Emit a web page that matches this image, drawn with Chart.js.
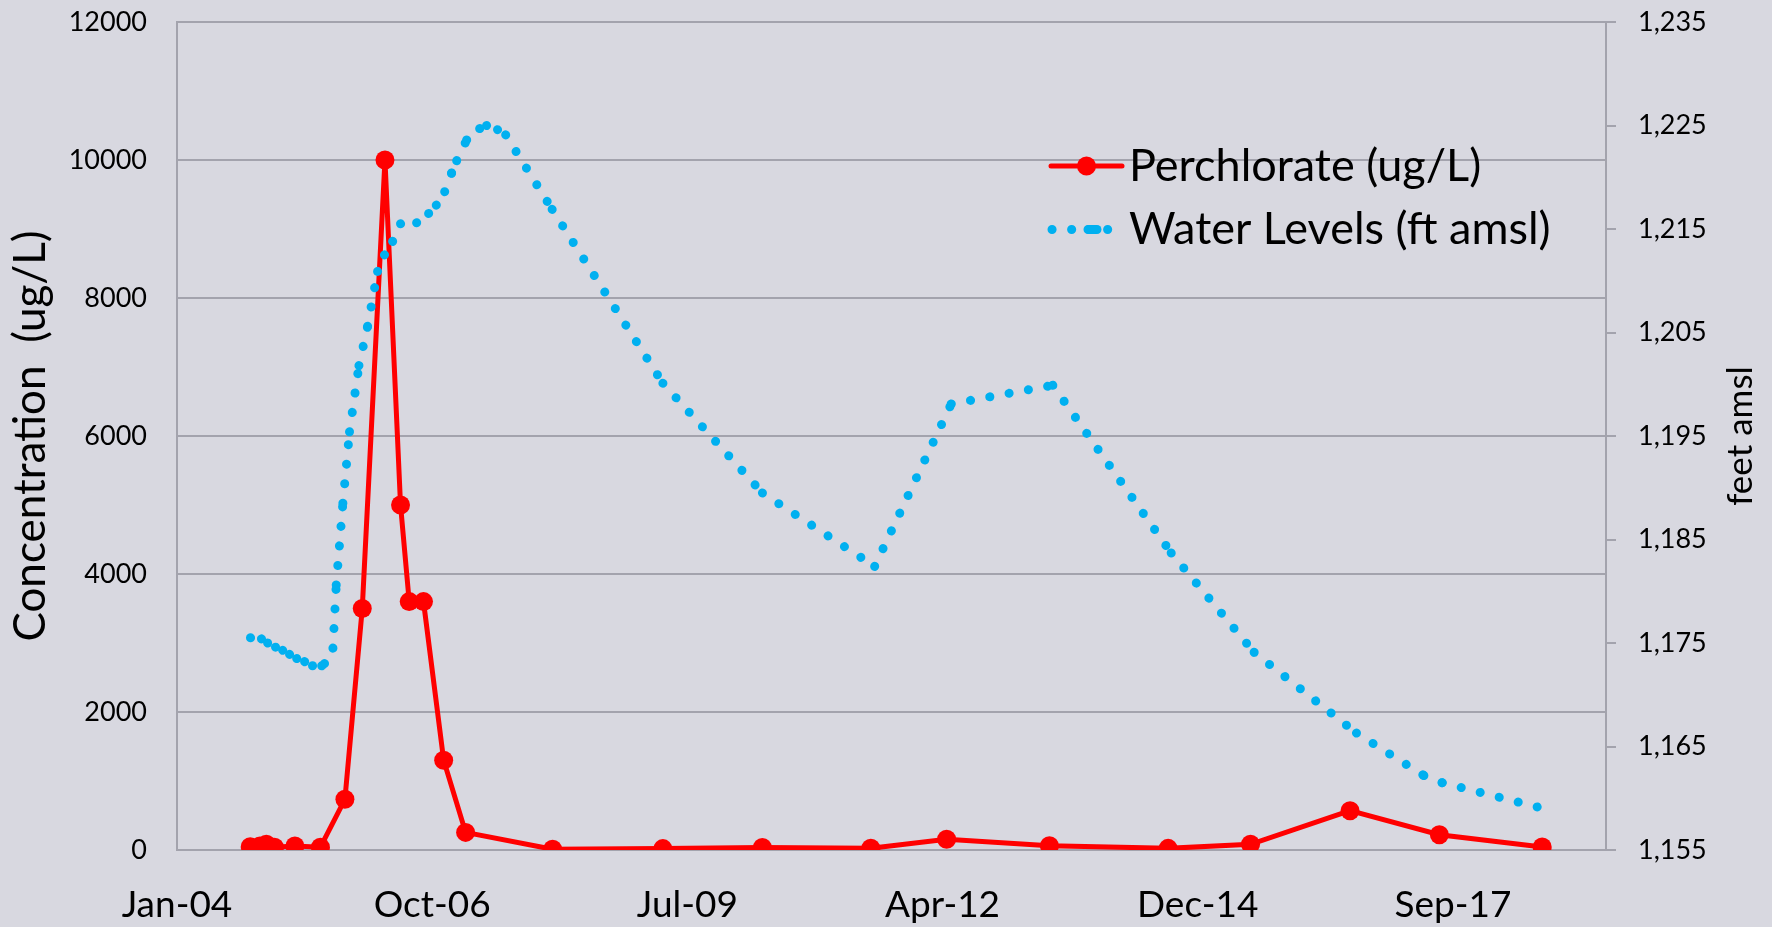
<!DOCTYPE html>
<html>
<head>
<meta charset="utf-8">
<title>Perchlorate and Water Levels</title>
<script src="https://cdn.jsdelivr.net/npm/chart.js@4.4.1/dist/chart.umd.min.js"></script>
<style>
    html, body { margin: 0; padding: 0; background: #d8d8e0; }
    #wrap { width: 1772px; height: 927px; }
</style>
</head>
<body>
<div id="wrap"><canvas id="levelChart" width="1772" height="927"></canvas></div>
<script>
// perchlorate samples (ug/L)
var perchlorateDates = ['2004-10-27', '2004-12-04', '2004-12-29', '2005-01-30', '2005-04-20', '2005-07-29',
    '2005-11-02', '2006-01-09', '2006-04-08', '2006-06-08', '2006-07-12', '2006-09-06', '2006-11-24',
    '2007-02-18', '2008-01-25', '2009-04-01', '2010-04-26', '2011-06-25', '2012-04-17', '2013-05-25',
    '2014-09-02', '2015-07-22', '2016-08-15', '2017-07-31', '2018-09-07'];
var perchlorateValues = [48, 58, 82, 40, 58, 40, 735, 3500, 10000, 5000, 3600, 3600, 1300,
    255, 10, 20, 35, 25, 155, 63, 24, 82, 570, 222, 43];

// water levels (ft amsl)
var waterLevelDates = ['2004-10-28', '2004-12-10', '2005-01-03', '2005-02-03', '2005-03-03', '2005-03-30',
    '2005-04-27', '2005-05-28', '2005-06-28', '2005-08-03', '2005-08-14', '2005-09-16', '2005-09-29',
    '2005-10-25', '2005-11-20', '2005-12-27', '2006-01-30', '2006-03-10', '2006-04-06', '2006-05-08',
    '2006-06-08', '2006-08-10', '2006-09-26', '2006-10-26', '2006-11-28', '2006-12-25', '2007-01-14',
    '2007-02-22', '2007-04-14', '2007-05-11', '2007-06-23', '2007-07-25', '2008-01-23', '2009-04-01',
    '2010-04-26', '2011-07-10', '2012-05-05', '2013-06-07', '2014-09-14', '2015-08-05', '2016-09-09',
    '2017-05-31', '2017-08-11', '2018-09-29'];
var waterLevelValues = [1175.5, 1175.4, 1175.0, 1174.6, 1174.3, 1173.9, 1173.5, 1173.2, 1172.8, 1172.8,
    1173.0, 1174.5, 1180.6, 1188.5, 1195.4, 1201.8, 1205.6, 1210.9, 1212.5, 1213.8, 1215.5, 1215.6,
    1216.5, 1217.3, 1218.6, 1220.4, 1221.6, 1223.6, 1224.7, 1225.0, 1224.6, 1224.1, 1216.9, 1200.1,
    1189.5, 1182.4, 1198.1, 1199.9, 1183.7, 1174.1, 1166.3, 1162.2, 1161.5, 1158.9];

var xTickLabels = ['Jan-04', 'Oct-06', 'Jul-09', 'Apr-12', 'Dec-14', 'Sep-17'];

var gridColor = '#a3a3ad';
var font = 'Lato';

// spreadsheet style day numbers, so the axis steps land on 1000 day marks
function toSerial(d) {
    var p = d.split('-');
    return (Date.UTC(+p[0], +p[1] - 1, +p[2]) - Date.UTC(1899, 11, 30)) / 86400000;
}

function toPoints(dates, values) {
    return dates.map(function (d, i) { return { x: toSerial(d), y: values[i] }; });
}

// fixed width for the y axes, and no extra room above the top label
function fixWidth(w) {
    return function (s) {
        s.width = w;
        s.paddingTop = 0;
        s.paddingBottom = 0;
    };
}

// legend inside the plot + right axis title reading bottom to top
var overlayPlugin = {
    id: 'overlay',
    afterDraw: function (chart) {
        var c = chart.ctx;
        var red = chart.data.datasets[1], blue = chart.data.datasets[0];
        c.save();
        c.lineCap = 'round';

        c.strokeStyle = red.borderColor;
        c.lineWidth = red.borderWidth;
        c.beginPath(); c.moveTo(1051, 166); c.lineTo(1122, 166); c.stroke();
        c.fillStyle = red.borderColor;
        c.beginPath(); c.arc(1086.5, 166, red.pointRadius, 0, Math.PI * 2); c.fill();

        // dots with a short dash, like the sheet's round-dot symbol
        c.strokeStyle = blue.borderColor;
        c.lineWidth = blue.borderWidth;
        c.setLineDash(blue.borderDash);
        c.beginPath(); c.moveTo(1052, 229.5); c.lineTo(1075, 229.5); c.stroke();
        c.beginPath(); c.moveTo(1088, 229.5); c.lineTo(1097, 229.5); c.lineTo(1110, 229.5); c.stroke();
        c.setLineDash([]);
        c.beginPath(); c.moveTo(1089, 229.5); c.lineTo(1097, 229.5); c.stroke();

        c.fillStyle = '#000';
        c.font = '45px ' + font;
        c.textBaseline = 'middle';
        c.textAlign = 'left';
        c.fillText(red.label, 1129, 166);
        c.fillText(blue.label, 1129, 229.5);

        var area = chart.chartArea;
        c.translate(1741, (area.top + area.bottom) / 2);
        c.rotate(-Math.PI / 2);
        c.textAlign = 'center';
        c.font = '35px ' + font;
        c.fillText('feet amsl', 0, 0);
        c.restore();
    }
};

var ctxLevel = document.getElementById('levelChart').getContext('2d');
var levelChart = new Chart(ctxLevel, {
    type: 'line',
    data: {
        datasets: [{
            label: 'Water Levels (ft amsl)',
            data: toPoints(waterLevelDates, waterLevelValues),
            yAxisID: 'yLevel',
            borderColor: '#00b0f0',
            borderWidth: 9,
            borderDash: [0.1, 19.5],
            borderCapStyle: 'round',
            pointRadius: 0,
            tension: 0,
            // each segment stroked on its own so the dots restart at every reading
            segment: {
                borderDashOffset: function (ctx) { return ctx.p0DataIndex % 2 ? 0.001 : 0; }
            },
            order: 0
        }, {
            label: 'Perchlorate (ug/L)',
            data: toPoints(perchlorateDates, perchlorateValues),
            yAxisID: 'yConc',
            borderColor: '#ff0000',
            backgroundColor: '#ff0000',
            borderWidth: 5,
            pointRadius: 9.5,
            pointBorderWidth: 0,
            pointBackgroundColor: '#ff0000',
            tension: 0,
            order: 1
        }]
    },
    options: {
        responsive: false,
        animation: false,
        devicePixelRatio: 1,
        layout: { padding: { top: 22, left: 0, right: 0, bottom: 0 } },
        plugins: {
            legend: { display: false },
            tooltip: { enabled: false }
        },
        scales: {
            x: {
                type: 'linear',
                min: 38000,
                max: 43600,
                afterFit: function (s) { s.height = 77; },
                afterBuildTicks: function (s) {
                    s.ticks = xTickLabels.map(function (l, i) { return { value: 38000 + i * 1000 }; });
                },
                grid: { display: false, drawTicks: false },
                border: { display: true, color: gridColor, width: 2 },
                ticks: {
                    autoSkip: false,
                    maxRotation: 0,
                    padding: 33,
                    color: '#000',
                    font: { family: font, size: 37 },
                    callback: function (v, i) { return xTickLabels[i]; }
                }
            },
            yConc: {
                position: 'left',
                min: 0,
                max: 12000,
                afterFit: fixWidth(177),
                grid: { color: gridColor, lineWidth: 2, drawTicks: false },
                border: { display: true, color: gridColor, width: 2 },
                ticks: {
                    stepSize: 2000,
                    padding: 30,
                    color: '#000',
                    font: { family: font, size: 27 },
                    callback: function (v) { return String(v); }
                },
                title: {
                    display: true,
                    text: 'Concentration  (ug/L)',
                    color: '#000',
                    font: { family: font, size: 44 },
                    padding: { top: 4, bottom: 0 }
                }
            },
            yLevel: {
                position: 'right',
                min: 1155,
                max: 1235,
                afterFit: fixWidth(166),
                grid: { drawOnChartArea: false, drawTicks: true, tickLength: 10, color: gridColor, lineWidth: 2 },
                border: { display: true, color: gridColor, width: 2 },
                ticks: {
                    stepSize: 10,
                    padding: 22,
                    color: '#000',
                    font: { family: font, size: 27 },
                    callback: function (v) { return v.toLocaleString('en-US'); }
                }
            }
        }
    },
    plugins: [overlayPlugin]
});
</script>
</body>
</html>
